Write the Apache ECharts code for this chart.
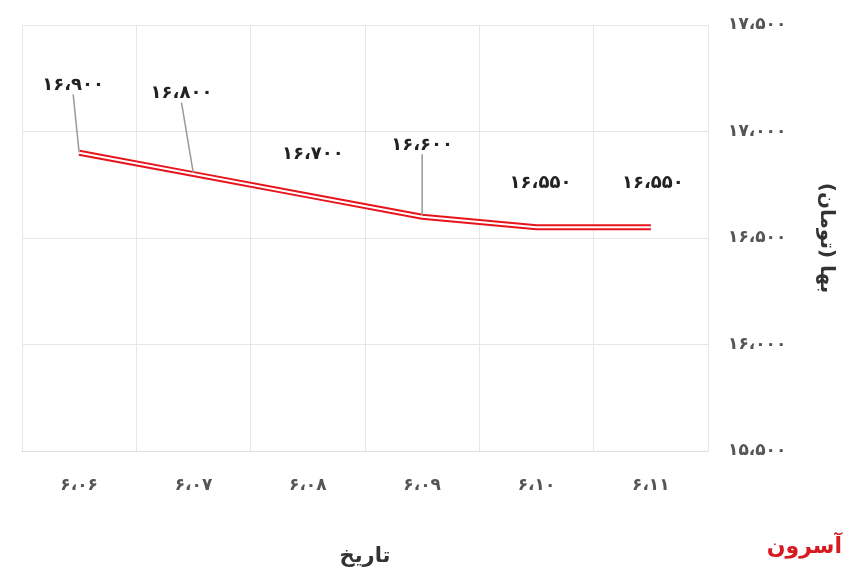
<!DOCTYPE html>
<html>
<head>
<meta charset="utf-8">
<script src="https://cdn.jsdelivr.net/npm/echarts@6/dist/echarts.min.js"></script>
<style>html,body{margin:0;padding:0;background:#fff}#c{width:860px;height:580px}</style>
</head>
<body>
<div id="c"></div>
<script>
var categories = ['۶،۰۶', '۶،۰۷', '۶،۰۸', '۶،۰۹', '۶،۱۰', '۶،۱۱'];
var prices = [16900, 16800, 16700, 16600, 16550, 16550];
var labelShiftY = [-58, -71, -32, -62, -35, -35];
var labelShiftX = [-6, -12, 5, 0, 4, 2];
var leaderShown = [true, true, false, true, false, false];

function fa(n) {
    var s = String(n).replace(/\B(?=(\d{3})+(?!\d))/g, '،');
    return s.replace(/\d/g, function (d) { return '۰۱۲۳۴۵۶۷۸۹'[d]; });
}

var chart = echarts.init(document.getElementById('c'));
var font = 'DejaVu Sans';
chart.setOption({
    backgroundColor: '#fff',
    animation: false,
    grid: { left: 22, right: 152, top: 25, bottom: 129 },
    xAxis: {
        type: 'category',
        data: categories,
        name: 'تاریخ',
        nameLocation: 'middle',
        nameGap: 95,
        nameTextStyle: { fontFamily: font, fontSize: 21, fontWeight: 'bold', color: '#333' },
        axisTick: { show: false },
        axisLine: { lineStyle: { color: '#ddd' } },
        splitLine: { show: true, lineStyle: { color: '#e6e6e6' } },
        axisLabel: { margin: 26, fontFamily: font, fontSize: 17, fontWeight: 'bold', color: '#555' }
    },
    yAxis: {
        type: 'value',
        position: 'right',
        min: 15500, max: 17500, interval: 500,
        name: 'بها (تومان)',
        nameLocation: 'middle',
        nameRotate: -90,
        nameGap: 108,
        nameTextStyle: { fontFamily: font, fontSize: 20, fontWeight: 'bold', color: '#333' },
        axisLine: { show: true, lineStyle: { color: '#e6e6e6' } },
        axisTick: { show: false },
        splitLine: { lineStyle: { color: '#e6e6e6' } },
        axisLabel: { margin: 20, fontFamily: font, fontSize: 17, fontWeight: 'bold', color: '#555', formatter: fa }
    },
    series: [{
        type: 'line',
        data: prices.map(function (v, i) {
            return { value: v, labelLine: { show: leaderShown[i] } };
        }),
        symbol: 'circle',
        symbolSize: 1,
        showSymbol: true,
        itemStyle: { color: 'rgba(0,0,0,0)' },
        lineStyle: { color: '#e8141b', width: 6 },
        label: {
            show: true, position: 'top', distance: 0,
            fontFamily: font, fontSize: 18, fontWeight: 'bold', color: '#222',
            formatter: function (p) { return fa(p.value); }
        },
        labelLayout: function (p) {
            return { dx: labelShiftX[p.dataIndex], dy: labelShiftY[p.dataIndex] };
        },
        labelLine: { lineStyle: { color: '#999', width: 1.5 } },
        z: 2
    }, {
        type: 'line',
        data: prices,
        symbol: 'none',
        silent: true,
        lineStyle: { color: '#fff', width: 2 },
        z: 3
    }],
    graphic: [{
        type: 'text', right: 18, bottom: 22,
        style: { text: 'آسرون', fontFamily: font, fontSize: 22, fontWeight: 'bold', fill: '#d71920' }
    }]
});
</script>
</body>
</html>
